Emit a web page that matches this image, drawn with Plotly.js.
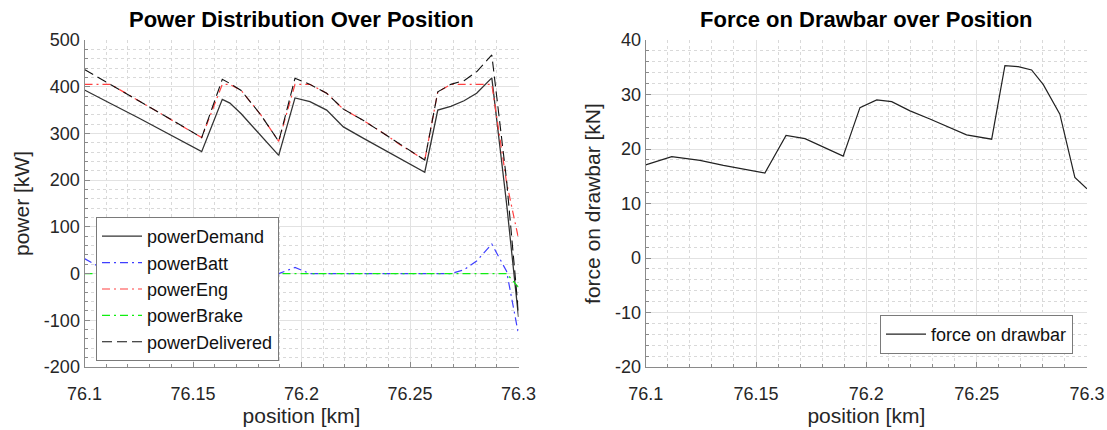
<!DOCTYPE html>
<html>
<head>
<meta charset="utf-8">
<script src="https://cdn.plot.ly/plotly-3.0.1.min.js"></script>
<style>html,body{margin:0;padding:0;background:#fff;}#chart{width:1107px;height:430px;}</style>
</head>
<body>
<div id="chart"></div>
<script>
// ---- Data ----
const powerPosition = [76.100, 76.106, 76.112, 76.125, 76.135, 76.145, 76.154, 76.1635, 76.167, 76.1722, 76.1812, 76.1895, 76.197, 76.2039, 76.2116, 76.2193, 76.2288, 76.2379, 76.2454, 76.2568, 76.2628, 76.2688, 76.2749, 76.2807, 76.2877, 76.2945, 76.300];
const powerDemand    = [393, 378, 364, 333, 308, 284, 261, 373, 365, 342, 295, 253, 376, 368, 350, 314, 289, 266, 246, 217, 350, 358, 370, 386, 419, 150, -93];
const powerBatt      = [32, 16, 0, 0, 0, 0, 0, 11, 2, 0, 0, 0, 13, 0, 0, 0, 0, 0, 0, 0, 0, 0, 8, 27, 63, 5, -130];
const powerEng       = [405, 405, 405, 370, 343, 316, 291, 405, 405, 392, 340, 283, 405, 405, 386, 352, 327, 300, 276, 243, 389, 405, 405, 405, 405, 195, 75];
const powerBrake     = [0, 0, 0, 0, 0, 0, 0, 0, 0, 0, 0, 0, 0, 0, 0, 0, 0, 0, 0, 0, 0, 0, 0, 0, 0, 0, -29];
const powerDelivered = [437, 421, 405, 370, 343, 316, 291, 416, 407, 392, 340, 283, 418, 405, 386, 352, 327, 300, 276, 243, 389, 405, 413, 432, 468, 200, -84];

const forcePosition = [76.100, 76.1118, 76.1246, 76.1352, 76.154, 76.1636, 76.1722, 76.1812, 76.1895, 76.1971, 76.2047, 76.2115, 76.2198, 76.2288, 76.2379, 76.2454, 76.2568, 76.2628, 76.2688, 76.2749, 76.2802, 76.2877, 76.2945, 76.300];
const forceDrawbar  = [17.1, 18.6, 17.9, 17.0, 15.6, 22.5, 21.9, 20.2, 18.7, 27.6, 29.0, 28.7, 27.0, 25.5, 23.9, 22.6, 21.8, 35.3, 35.1, 34.5, 31.8, 26.4, 14.8, 12.7];

const xTickVals   = [76.1, 76.15, 76.2, 76.25, 76.3];
const xTickLabels = ['76.1', '76.15', '76.2', '76.25', '76.3'];
const powerTickVals   = [-200, -100, 0, 100, 200, 300, 400, 500];
const powerTickLabels = ['-200', '-100', '0', '100', '200', '300', '400', '500'];
const forceTickVals   = [-20, -10, 0, 10, 20, 30, 40];
const forceTickLabels = ['-20', '-10', '0', '10', '20', '30', '40'];

// ---- Styling ----
const FONT = 'Liberation Sans, Arial, Helvetica, sans-serif';
const DASH = '10px,5px';
const DASHDOT = '8px,4px,2px,4px';

const traces = [
  {x: powerPosition, y: powerDemand, name: 'powerDemand', mode: 'lines', line: {color: '#333333', width: 1.3}, xaxis: 'x', yaxis: 'y', legend: 'legend'},
  {x: powerPosition, y: powerBatt, name: 'powerBatt', mode: 'lines', line: {color: '#3f3fff', width: 1.2, dash: DASHDOT}, xaxis: 'x', yaxis: 'y', legend: 'legend'},
  {x: powerPosition, y: powerEng, name: 'powerEng', mode: 'lines', line: {color: '#ff4040', width: 1.2, dash: DASHDOT}, xaxis: 'x', yaxis: 'y', legend: 'legend'},
  {x: powerPosition, y: powerBrake, name: 'powerBrake', mode: 'lines', line: {color: '#11ee11', width: 1.2, dash: DASHDOT}, xaxis: 'x', yaxis: 'y', legend: 'legend'},
  {x: powerPosition, y: powerDelivered, name: 'powerDelivered', mode: 'lines', line: {color: '#111111', width: 1.1, dash: DASH}, xaxis: 'x', yaxis: 'y', legend: 'legend'},
  {x: forcePosition, y: forceDrawbar, name: 'force on drawbar', mode: 'lines', line: {color: '#222222', width: 1.2}, xaxis: 'x2', yaxis: 'y2', legend: 'legend2'}
];

function xAxis(domain, anchor) {
  return {
    domain: domain, anchor: anchor, range: [76.1, 76.3],
    tickmode: 'array', tickvals: xTickVals, ticktext: xTickLabels,
    ticks: 'inside', ticklen: 5, tickcolor: '#8a8a8a', ticklabelstandoff: 10,
    showline: true, linecolor: '#8a8a8a', linewidth: 1, mirror: false,
    showgrid: true, gridcolor: '#e2e2e2', gridwidth: 1, zeroline: false,
    minor: {tick0: 76.1, dtick: 0.01, showgrid: true, gridcolor: '#d9d9d9', griddash: 'dot', ticks: 'inside', ticklen: 3, tickcolor: '#8a8a8a'},
    tickfont: {family: FONT, size: 18, color: '#262626'},
    title: {text: 'position [km]', font: {family: FONT, size: 21, color: '#262626'}, standoff: 0},
    fixedrange: true
  };
}
function yAxis(domain, anchor, range, tickvals, ticktext, minorStep, title) {
  return {
    domain: domain, anchor: anchor, range: range,
    tickmode: 'array', tickvals: tickvals, ticktext: ticktext,
    ticks: 'inside', ticklen: 5, tickcolor: '#8a8a8a',
    showline: true, linecolor: '#8a8a8a', linewidth: 1, mirror: false,
    showgrid: true, gridcolor: '#e2e2e2', gridwidth: 1, zeroline: false,
    minor: {tick0: range[0], dtick: minorStep, showgrid: true, gridcolor: '#d9d9d9', griddash: 'dot', ticks: 'inside', ticklen: 3, tickcolor: '#8a8a8a'},
    tickfont: {family: FONT, size: 18, color: '#262626'},
    title: {text: title, font: {family: FONT, size: 21, color: '#262626'}, standoff: 8},
    fixedrange: true
  };
}

const yDom = [1 - 367 / 430, 1 - 40 / 430];
const layout = {
  width: 1107, height: 430,
  margin: {l: 0, r: 0, t: 0, b: 0},
  paper_bgcolor: '#ffffff', plot_bgcolor: '#ffffff',
  font: {family: FONT, color: '#262626'},
  xaxis: xAxis([84.5 / 1107, 518.5 / 1107], 'y'),
  yaxis: yAxis(yDom, 'x', [-200, 500], powerTickVals, powerTickLabels, 20, 'power [kW]'),
  xaxis2: xAxis([645.7 / 1107, 1087 / 1107], 'y2'),
  yaxis2: yAxis(yDom, 'x2', [-20, 40], forceTickVals, forceTickLabels, 2, 'force on drawbar [kN]'),
  legend: {
    x: 96 / 1107, y: 1 - 217 / 430, xanchor: 'left', yanchor: 'top',
    bgcolor: '#ffffff', bordercolor: '#7a7a7a', borderwidth: 1,
    font: {family: FONT, size: 18, color: '#111111'}, tracegroupgap: 0, itemwidth: 40
  },
  legend2: {
    x: 1073 / 1107, y: 1 - 354 / 430, xanchor: 'right', yanchor: 'bottom',
    bgcolor: '#ffffff', bordercolor: '#7a7a7a', borderwidth: 1,
    font: {family: FONT, size: 18, color: '#111111'}, itemwidth: 40
  },
  showlegend: true,
  annotations: [
    {text: '<b>Power Distribution Over Position</b>', xref: 'paper', yref: 'paper', x: 301.5 / 1107, y: 1 - 19 / 430, xanchor: 'center', yanchor: 'middle', showarrow: false, font: {family: FONT, size: 22, color: '#000000'}},
    {text: '<b>Force on Drawbar over Position</b>', xref: 'paper', yref: 'paper', x: 866.4 / 1107, y: 1 - 19 / 430, xanchor: 'center', yanchor: 'middle', showarrow: false, font: {family: FONT, size: 22, color: '#000000'}}
  ]
};

Plotly.newPlot('chart', traces, layout, {staticPlot: true, displayModeBar: false});
</script>
</body>
</html>
